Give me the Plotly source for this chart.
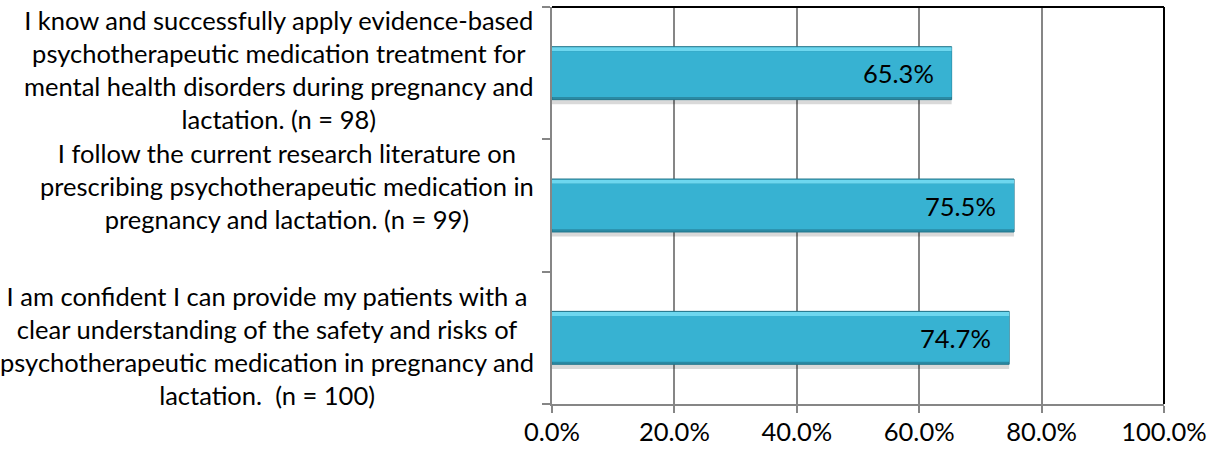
import plotly.graph_objects as go

# Survey items (bottom to top) and share of respondents agreeing
categories = [
    "I am confident I can provide my patients with a<br>clear understanding of the safety and risks of<br>psychotherapeutic medication in pregnancy and<br>lactation.  (n = 100)",
    "I follow the current research literature on<br>prescribing psychotherapeutic medication in<br>pregnancy and lactation. (n = 99)",
    "I know and successfully apply evidence-based<br>psychotherapeutic medication treatment for<br>mental health disorders during pregnancy and<br>lactation. (n = 98)",
]
values = [74.7, 75.5, 65.3]
x_ticks = [0, 20, 40, 60, 80, 100]

FONT = "Lato"
FS = 25.5
keys = ["c%d" % i for i in range(len(categories))]

fig = go.Figure()

# soft drop shadow under each bar
fig.add_trace(go.Bar(y=keys, x=values, orientation="h", width=0.4, offset=-0.235,
                     marker=dict(color="rgba(0,0,0,0.15)", line=dict(width=0)),
                     hoverinfo="skip", showlegend=False))
# dark bevel base
fig.add_trace(go.Bar(y=keys, x=values, orientation="h", width=0.4, offset=-0.2,
                     marker=dict(color="#2A8AA4", line=dict(color="#21768C", width=1)),
                     hoverinfo="skip", showlegend=False))
# bright top edge
fig.add_trace(go.Bar(y=keys, x=values, orientation="h", width=0.03, offset=0.165,
                     marker=dict(color="#6DD7EF", line=dict(width=0)),
                     hoverinfo="skip", showlegend=False))
# main bar face
fig.add_trace(go.Bar(y=keys, x=values, orientation="h", width=0.345, offset=-0.18,
                     marker=dict(color="#37B2D2", line=dict(width=0)),
                     showlegend=False))

annotations = []
for k, v in zip(keys, values):
    annotations.append(dict(x=v, y=k, xref="x", yref="y", text=f"{v:.1f}%",
                            xanchor="right", yanchor="middle", xshift=-16, showarrow=False,
                            font=dict(family=FONT, size=FS, color="#000000")))

label_shift = [-8, 20, 4]
for k, lab, s in zip(keys, categories, label_shift):
    annotations.append(dict(x=0, y=k, xref="paper", yref="y", text=lab, xanchor="right",
                            yanchor="middle", xshift=-16, yshift=s, align="center",
                            showarrow=False, font=dict(family=FONT, size=FS, color="#000000")))

fig.update_layout(
    width=1214, height=453,
    margin=dict(l=552, r=47, t=7, b=46),
    paper_bgcolor="white", plot_bgcolor="white",
    barmode="overlay",
    font=dict(family=FONT, size=FS, color="#000000"),
    annotations=annotations,
    shapes=[
        dict(type="line", xref="paper", yref="paper", x0=0, x1=1, y0=1, y1=1,
             line=dict(color="#000000", width=2)),
        dict(type="line", xref="paper", yref="paper", x0=1, x1=1, y0=0, y1=1,
             line=dict(color="#000000", width=2)),
    ],
)
fig.update_xaxes(range=[0, 100], tickvals=x_ticks, ticktext=[f"{t:.1f}%" for t in x_ticks],
                 showgrid=True, gridcolor="#868686", gridwidth=2,
                 showline=True, linecolor="#868686", linewidth=2,
                 ticks="outside", ticklen=7, tickcolor="#868686", tickwidth=2,
                 ticklabelstandoff=-3,
                 zeroline=False, fixedrange=True,
                 tickfont=dict(family=FONT, size=FS, color="#000000"))
fig.update_yaxes(categoryorder="array", categoryarray=keys, range=[-0.5, 2.5],
                 showticklabels=False, showgrid=False, zeroline=False,
                 showline=True, linecolor="#868686", linewidth=2,
                 ticks="outside", tickson="boundaries", ticklen=8,
                 tickcolor="#868686", tickwidth=2, fixedrange=True)

fig.write_html("out.html")
